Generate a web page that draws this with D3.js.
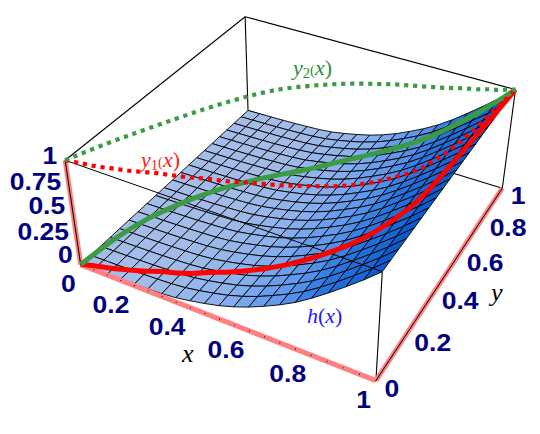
<!DOCTYPE html><html><head><meta charset="utf-8"><style>html,body{margin:0;background:#fff}svg{display:block}</style></head><body><svg id="c" width="540" height="434"></svg>
<script src="https://cdn.jsdelivr.net/npm/d3@7"></script>
<script>
// ---------- values ----------
const xGrid=[0,.05,.1,.15,.2,.25,.3,.35,.4,.45,.5,.55,.6,.65,.7,.75,.8,.85,.9,.95,1];
const yGrid=[0,.05,.1,.15,.2,.25,.3,.35,.4,.45,.5,.55,.6,.65,.7,.75,.8,.85,.9,.95,1];
const hValues=[0,.003,.006,.01,.015,.022,.03,.045,.07,.10,.135,.18,.235,.30,.37,.45,.545,.65,.76,.875,1];
const curveX=[0,.05,.1,.15,.2,.25,.3,.35,.4,.45,.5,.55,.6,.65,.7,.75,.8,.85,.9,.925,.95,.975,1];
const y1Values=[0,.01,.02,.035,.05,.07,.085,.10,.12,.135,.155,.175,.195,.22,.245,.275,.315,.37,.44,.51,.61,.77,1];
const y2Values=[0,.12,.225,.325,.42,.505,.58,.64,.685,.725,.76,.79,.815,.84,.86,.88,.90,.925,.945,.96,.97,.985,1];
const y1Height=[0,.02,.03,.04,.05,.06,.07,.09,.115,.14,.17,.205,.25,.30,.36,.425,.495,.58,.69,.76,.85,.93,1];
const y2Height=[0,.10,.16,.18,.18,.17,.155,.15,.16,.185,.22,.26,.305,.355,.415,.485,.57,.665,.77,.825,.88,.94,1];
const xTicks=[0,.2,.4,.6,.8,1], xTickLabels=["0","0.2","0.4","0.6","0.8","1"];
const yTicks=[0,.2,.4,.6,.8,1], yTickLabels=["0","0.2","0.4","0.6","0.8","1"];
const zTicks=[0,.25,.5,.75,1], zTickLabels=["0","0.25","0.5","0.75","1"];
const minorTicks=d3.range(0,21).map(i=>i/20);
// perspective camera, fitted to the box corners of the picture
const camera=[253.3894,221.0133,-19.9119,80.6886,73.7075,-130.2602,-115.041,264.5619,-0.1113,0.2164,-0.0669];
const zLabelNudge=[-2,.5,0,2.5,4];
// ---------- scales ----------
const sx=d3.scaleLinear().domain([0,1]).range([0,1]);
const sy=d3.scaleLinear().domain([0,1]).range([0,1]);
const sz=d3.scaleLinear().domain([0,1]).range([0,1]);
function P(a,b,c){const x=sx(a),y=sy(b),z=sz(c),p=camera,w=p[8]*x+p[9]*y+p[10]*z+1;
 return[(p[0]*x+p[1]*y+p[2]*z+p[3])/w,(p[4]*x+p[5]*y+p[6]*z+p[7])/w]}
const shade=d3.scaleLinear().domain([0,.5,1,1.5,2,2.5]).range(["#a6bde8","#96b6ec","#7fabf0","#5a96ec","#2f7ce4","#0a5ad0"]).clamp(true);
const svg=d3.select("#c");
const line=d3.line();
const smooth=d3.line().curve(d3.curveCatmullRom.alpha(.5));
const seg=(g,a,b,w,col)=>g.append("path").attr("d",line([P(...a),P(...b)])).attr("fill","none").attr("stroke",col).attr("stroke-width",w);
// back box
const back=svg.append("g");
[[[0,0,1],[0,1,1]],[[0,1,1],[1,1,1]],[[0,1,1],[0,1,0]],[[0,1,0],[1,1,0]],[[1,1,0],[1,1,1]]].forEach(e=>seg(back,e[0],e[1],1.1,"#000"));
// surface
const cells=[];
for(let j=yGrid.length-2;j>=0;j--)for(let i=0;i<xGrid.length-1;i++)cells.push({i,j});
svg.append("g").selectAll("path").data(cells).join("path")
 .attr("d",d=>line([P(xGrid[d.i],yGrid[d.j],hValues[d.i]),P(xGrid[d.i+1],yGrid[d.j],hValues[d.i+1]),P(xGrid[d.i+1],yGrid[d.j+1],hValues[d.i+1]),P(xGrid[d.i],yGrid[d.j+1],hValues[d.i])])+"Z")
 .attr("fill",d=>shade((hValues[d.i+1]-hValues[d.i])/(xGrid[d.i+1]-xGrid[d.i])))
 .attr("stroke","#000").attr("stroke-width",.9).attr("stroke-linejoin","round");
// front box edges
const front=svg.append("g");
seg(front,[0,0,1],[1,0,1],1,"#000");
seg(front,[1,0,0],[1,0,1],1.1,"#000");
// axes
const axes=svg.append("g");
[[[0,0,0],[1,0,0]],[[1,0,0],[1,1,0]],[[0,0,0],[0,0,1]]].forEach(e=>seg(axes,e[0],e[1],5,"#ff8080"));
seg(axes,[1,0,0],[1,1,0],1,"#000");seg(axes,[0,0,0],[0,0,1],1,"#000");
axes.selectAll("circle.x").data(minorTicks).join("circle").attr("class","x").attr("r",.6).attr("fill","#000")
 .attr("cx",d=>P(d,0,0)[0]).attr("cy",d=>P(d,0,0)[1]);
// curves
const curve=(ys,zs)=>curveX.map((x,i)=>P(x,ys[i],zs[i]));
const top1=y1Values.map(()=>1);
const stroke=(pts,col,w,dash)=>svg.append("path").attr("d",smooth(pts)).attr("fill","none").attr("stroke",col).attr("stroke-width",w).attr("stroke-dasharray",dash||null);
stroke(curve(y1Values,y1Height),"#ff0000",5);
stroke(curve(y2Values,y2Height),"#3c9c46",5);
stroke(curve(y1Values,top1),"#ff0000",4.2,"4.2 4.8");
stroke(curve(y2Values,top1),"#3c9c46",4.2,"4.2 4.8");
// tick labels
const tl=(pos,txt,anchor)=>{const t=svg.append("text").attr("x",pos[0]).attr("y",pos[1]).attr("text-anchor",anchor).attr("font-family","Liberation Sans").attr("font-weight","bold").attr("font-size",24.5).attr("fill","#000080").text(txt);
 t.attr("textLength",t.node().getComputedTextLength()*1.08).attr("lengthAdjust","spacingAndGlyphs")};
xTicks.forEach((t,i)=>{const q=P(t,0,0);tl([q[0]-5,q[1]+27],xTickLabels[i],"end")});
yTicks.forEach((t,i)=>{const q=P(1,t,0);tl([q[0]+8.5,q[1]+16],yTickLabels[i],"start")});
zTicks.forEach((t,i)=>{const q=P(0,0,t);tl([q[0]-8,q[1]+zLabelNudge[i]],zTickLabels[i],"end")});
// math labels
const ml=(x,y,col,size,parts)=>{const t=svg.append("text").attr("x",x).attr("y",y).attr("fill",col).attr("font-family","Liberation Serif").attr("font-size",size);
 parts.forEach(p=>{const s=t.append("tspan").text(p[0]);if(p[1])s.attr("font-style","italic");if(p[2])s.attr("font-size",size*.66).attr("dy",p[2])})};
ml(141,167,"#ff2020",22,[["y",1],["1",0,3],["(",0,-3],["x",1],[")",0]]);
ml(293,75,"#2c8c34",22,[["y",1],["2",0,3],["(",0,-3],["x",1],[")",0]]);
ml(307,323,"#2020ff",22,[["h",1],["(",0],["x",1],[")",0]]);
ml(182,362,"#000",26,[["x",1]]);
ml(491,301,"#000",26,[["y",1]]);
</script></body></html>
